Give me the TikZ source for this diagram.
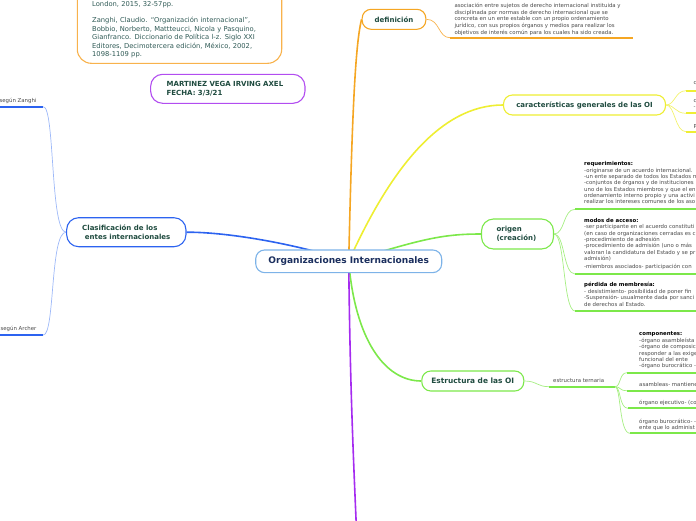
\documentclass[tikz,border=0pt]{standalone}
\usepackage{fontspec}
\setmainfont{DejaVu Sans}
\usetikzlibrary{calc}
\definecolor{oiblue}{HTML}{7DB3E8}
\definecolor{navy}{HTML}{1B2F5E}
\definecolor{dgreen}{HTML}{1F4B3F}
\definecolor{leafgray}{HTML}{4A4A4A}
\definecolor{corange}{HTML}{F5A623}
\definecolor{lorange}{HTML}{F8B24C}
\definecolor{cyellow}{HTML}{EEEE33}
\definecolor{lyellow}{HTML}{F3F36E}
\definecolor{cgreen}{HTML}{7CE84A}
\definecolor{lgreen}{HTML}{A6EE82}
\definecolor{cblue}{HTML}{2C63F0}
\definecolor{lblue}{HTML}{9DB8F8}
\definecolor{cpurple}{HTML}{A52BF0}
\definecolor{npurple}{HTML}{B24DF0}
\definecolor{refteal}{HTML}{2F5A55}
\pgfdeclarelayer{bg}
\pgfsetlayers{bg,main}
\begin{document}
\begin{tikzpicture}[x=1pt,y=-1pt,
  branch/.style={draw, line width=1.1pt, fill=white, rounded corners=9pt,
    font=\fontsize{7}{8.5}\selectfont\bfseries, text=dgreen, inner sep=0pt},
  leaf/.style={font=\fontsize{5.4}{6.35}\selectfont, text=leafgray, inner sep=0pt,
    align=left, anchor=north west},
  mainline/.style={line width=1.6pt},
  subline/.style={line width=0.7pt},
  uline/.style={line width=1.8pt},
]
\useasboundingbox (0,0) rectangle (696,520);
\clip (0,0) rectangle (696,520);

% reference box
\draw[lorange, line width=1.1pt, rounded corners=14pt, fill=white] (77.3,-30) rectangle (281.7,63.3);
\node[font=\fontsize{6.75}{8.4}\selectfont, text=refteal, align=left, text width=185pt,
  anchor=north west, inner sep=0pt]
  (refs) at (92,0.8) {London, 2015, 32-57pp.\\[8.4pt]
  Zanghi, Claudio. “Organización internacional”,\\
  Bobbio, Norberto, Mattteucci, Nicola y Pasquino,\\
  Gianfranco. Diccionario de Política l-z. Siglo XXI\\
  Editores, Decimotercera edición, México, 2002,\\
  1098-1109 pp.};

% main nodes
\node[branch, draw=oiblue, text=navy, font=\fontsize{9.05}{10}\selectfont\bfseries,
  minimum width=186pt, minimum height=22.7pt] (oi) at (348.7,261.3) {Organizaciones Internacionales};
\node[branch, draw=corange, minimum width=63.7pt, minimum height=20pt] (def) at (394,19.3) {definición};
\node[branch, draw=cyellow, minimum width=162pt, minimum height=20pt] (car) at (584.5,105) {características generales de las OI};
\node[branch, draw=cgreen, rounded corners=12pt, minimum height=30pt, text width=42pt, inner xsep=15pt,
  align=left] (ori) at (517.5,234) {origen\\(creación)};
\node[branch, draw=cgreen, font=\fontsize{7.4}{8.5}\selectfont\bfseries, minimum width=102pt,
  minimum height=20pt] (est) at (472.8,381) {Estructura de las OI};
\node[branch, draw=cblue, rounded corners=12pt, minimum height=29pt, minimum width=119.3pt,
  align=left] (cla) at (126.3,232.2) {Clasificación de los\\\hspace*{2.7pt}entes internacionales};
\node[branch, draw=npurple, rounded corners=12pt, minimum height=29pt, text width=122.3pt, inner xsep=16pt,
  align=left] (name) at (227.8,88.8) {MARTINEZ VEGA IRVING AXEL\\FECHA: 3/3/21};

% leaf texts
\node[leaf, font=\fontsize{5.4}{6.65}\selectfont] (deftxt) at (454.3,3) {asociación entre sujetos de derecho internacional instituida y\\
disciplinada por normas de derecho internacional que se\\
concreta en un ente estable con un propio ordenamiento\\
jurídico, con sus propios órganos y medios para realizar los\\
objetivos de interés común para los cuales ha sido creada.};

\node[leaf] (car1) at (693.3,81.2) {c};
\node[leaf] (car2) at (693.3,98.9) {c\\-};
\node[leaf] (car3) at (693.3,124.2) {P};

\node[leaf] (req) at (584,161.5) {{\color{black}\bfseries requerimientos:}\\
-originarse de un acuerdo internacional.\\
-un ente separado de todos los Estados m\\
-conjuntos de órganos y de instituciones\\
uno de los Estados miembros y que el en\\
ordenamiento interno propio y una activi\\
realizar los intereses comunes de los aso};

\node[leaf] (modos) at (584,218.2) {{\color{black}\bfseries modos de acceso:}\\
-ser participante en el acuerdo constituti\\
(en caso de organizaciones cerradas es c\\
-procedimiento de adhesión\\
-procedimiento de admisión (uno o más\\
valoran la candidatura del Estado y se pr\\
admisión)\\[1.9pt]
-miembros asociados- participación con};

\node[leaf, font=\fontsize{5.4}{6.45}\selectfont] (perd) at (584,282.2) {{\color{black}\bfseries pérdida de membresía:}\\
- desistimiento- posibilidad de poner fin\\
-Suspensión- usualmente dada por sanci\\
de derechos al Estado.};

\node[leaf] (tern) at (553,378.2) {estructura ternaria};

\node[leaf, font=\fontsize{5.4}{6.4}\selectfont] (comp) at (639,331.9) {{\color{black}\bfseries componentes:}\\
-órgano asambleísta\\
-órgano de composic\\
responder a las exige\\
funcional del ente\\
-órgano burocrático -};
\node[leaf] (asam) at (639,382.6) {asambleas- mantiene};
\node[leaf] (ejec) at (639,399.6) {órgano ejecutivo- (co};
\node[leaf, font=\fontsize{5.4}{6.2}\selectfont] (buro) at (639,419.2) {órgano burocrático- -\\ente que lo administ};

\node[leaf] (zan) at (-0.6,97.9) {según Zanghi};
\node[leaf] (arc) at (0.4,325.5) {según Archer};

% coordinates
\coordinate (purpend) at (356.5,530);
\coordinate (du1) at (450,37.7);  \coordinate (du2) at (633.3,37.7);
\coordinate (cu1) at (686,90.7);  \coordinate (cu1e) at (700,90.7);
\coordinate (cu2) at (686,113.3); \coordinate (cu2e) at (700,113.3);
\coordinate (cu3) at (686,131.7); \coordinate (cu3e) at (700,131.7);
\coordinate (ou1) at (575,209.3); \coordinate (ou1e) at (700,209.3);
\coordinate (ou2) at (575,274);   \coordinate (ou2e) at (700,274);
\coordinate (ou3) at (575,311);   \coordinate (ou3e) at (700,311);
\coordinate (eu0a) at (549,386.7); \coordinate (eu0b) at (615,386.7);
\coordinate (eu1) at (627,372.7); \coordinate (eu1e) at (700,372.7);
\coordinate (eu2) at (627,390.7); \coordinate (eu2e) at (700,390.7);
\coordinate (eu3) at (628,408.3); \coordinate (eu3e) at (700,408.3);
\coordinate (eu4) at (630,433.3); \coordinate (eu4e) at (700,433.3);
\coordinate (zu) at (43.3,106.7); \coordinate (zue) at (-5,106.7);
\coordinate (au) at (43.3,335);   \coordinate (aue) at (-5,335);

\begin{pgfonlayer}{bg}
  % main connectors
  \draw[mainline, corange] (oi.center) .. controls (352,120) and (355,45) .. (def.west);
  \draw[mainline, cyellow] (oi.center) .. controls (390,170) and (440,105) .. (car.west);
  \draw[mainline, cgreen] (oi.center) .. controls (420,240) and (440,234) .. (ori.west);
  \draw[mainline, cgreen] (oi.center) .. controls (355,340) and (385,381) .. (est.west);
  \draw[mainline, cblue] (oi.center) .. controls (300,245) and (230,232) .. (cla.east);
  \draw[mainline, cpurple] (oi.center) .. controls (350,380) and (353,450) .. (purpend);
  % definicion
  \draw[subline, lorange] (def.east) .. controls (440,19.3) and (438,37.7) .. (du1);
  \draw[uline, corange] (du1) -- (du2);
  % caracteristicas
  \draw[subline, lyellow] (car.east) .. controls (675,105) and (675,90.7) .. (cu1);
  \draw[subline, lyellow] (car.east) .. controls (675,105) and (675,113.3) .. (cu2);
  \draw[subline, lyellow] (car.east) .. controls (675,105) and (675,131.7) .. (cu3);
  \draw[uline, cyellow] (cu1) -- (cu1e);
  \draw[uline, cyellow] (cu2) -- (cu2e);
  \draw[uline, cyellow] (cu3) -- (cu3e);
  % origen
  \draw[subline, lgreen] (ori.east) .. controls (565,234) and (563,209.3) .. (ou1);
  \draw[subline, lgreen] (ori.east) .. controls (565,234) and (563,274) .. (ou2);
  \draw[subline, lgreen] (ori.east) .. controls (565,234) and (563,311) .. (ou3);
  \draw[uline, cgreen] (ou1) -- (ou1e);
  \draw[uline, cgreen] (ou2) -- (ou2e);
  \draw[uline, cgreen] (ou3) -- (ou3e);
  % estructura
  \draw[subline, lgreen] (est.east) .. controls (537,381) and (537,386.7) .. (eu0a);
  \draw[uline, cgreen] (eu0a) -- (eu0b);
  \draw[subline, lgreen] (eu0b) .. controls (621,386.7) and (619,372.7) .. (eu1);
  \draw[subline, lgreen] (eu0b) .. controls (621,386.7) and (619,390.7) .. (eu2);
  \draw[subline, lgreen] (eu0b) .. controls (621,386.7) and (619,408.3) .. (eu3);
  \draw[subline, lgreen] (eu0b) .. controls (621,386.7) and (619,433.3) .. (eu4);
  \draw[uline, cgreen] (eu1) -- (eu1e);
  \draw[uline, cgreen] (eu2) -- (eu2e);
  \draw[uline, cgreen] (eu3) -- (eu3e);
  \draw[uline, cgreen] (eu4) -- (eu4e);
  % clasificacion
  \draw[subline, lblue] (cla.west) .. controls (50,232) and (55,106.7) .. (zu);
  \draw[subline, lblue] (cla.west) .. controls (50,232) and (55,335) .. (au);
  \draw[uline, cblue] (zu) -- (zue);
  \draw[uline, cblue] (au) -- (aue);
\end{pgfonlayer}
\end{tikzpicture}
\end{document}
